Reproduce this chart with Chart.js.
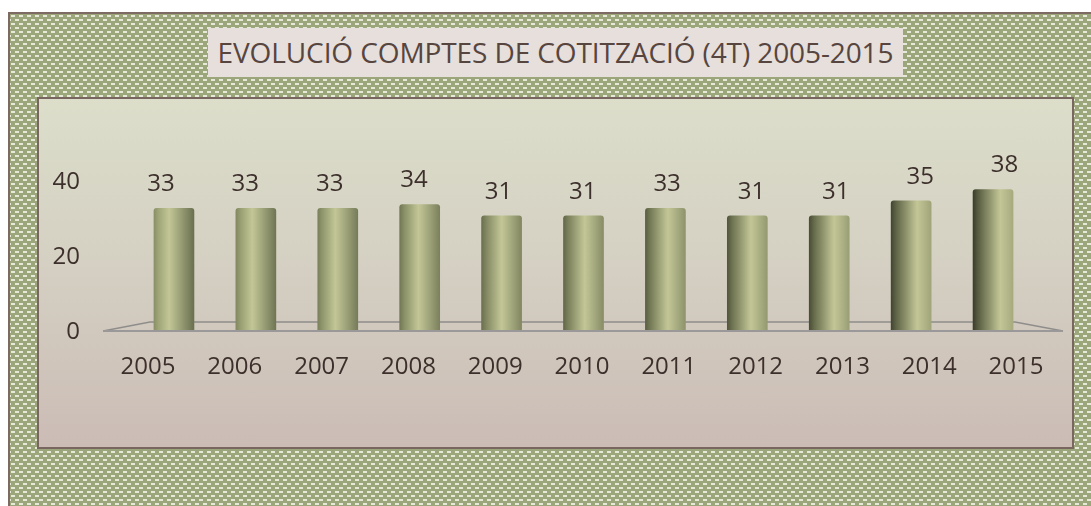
<!DOCTYPE html>
<html>
<head>
<meta charset="utf-8">
<script src="https://cdn.jsdelivr.net/npm/chart.js@4/dist/chart.umd.min.js"></script>
<style>
  html, body { margin: 0; padding: 0; width: 1091px; height: 506px; overflow: hidden; background: #ffffff; }
  #frame {
    position: absolute; left: 8px; top: 12px; width: 1090px; height: 500px;
    border-left: 2px solid #7d6b63; border-top: 2px solid #7d6b63;
    background-color: #9ba67b;
    background-image: url("data:image/svg+xml;utf8,<svg xmlns='http://www.w3.org/2000/svg' width='8' height='8'><rect x='1' y='1' width='4' height='2' fill='%23f4f4ea' fill-opacity='0.85'/><rect x='5' y='5' width='3' height='2' fill='%23f4f4ea' fill-opacity='0.85'/><rect x='0' y='5' width='1' height='2' fill='%23f4f4ea' fill-opacity='0.85'/></svg>");
  }
  #title {
    position: absolute; left: 208px; top: 28px; width: 695px; height: 49px;
    background: #e6dfdc; color: #574540;
    font-family: "Open Sans", sans-serif; font-size: 28px; line-height: 49px;
    text-align: center; white-space: nowrap; letter-spacing: -0.1px;
  }
  #panel {
    position: absolute; left: 37px; top: 97px; width: 1037px; height: 352px;
    box-sizing: border-box; border: 2px solid #7a6660;
    background: linear-gradient(to bottom, #dcdeca 0%, #d4cfc2 50%, #cbbcb5 100%);
  }
  #wrap { position: absolute; left: 39px; top: 99px; width: 1033px; height: 348px; }
</style>
</head>
<body>
<div id="frame"></div>
<div id="title">EVOLUCIÓ COMPTES DE COTITZACIÓ (4T) 2005-2015</div>
<div id="panel"></div>
<div id="wrap"><canvas id="c"></canvas></div>
<script>
const YEARS = ['2005','2006','2007','2008','2009','2010','2011','2012','2013','2014','2015'];
const VALUES = [33, 33, 33, 34, 31, 31, 33, 31, 31, 35, 38];
const Y_TICKS = [0, 20, 40];

const FONT = { family: '"Open Sans", sans-serif', size: 24 };
const TEXT = '#3d302c';

function hex(c){ return [parseInt(c.slice(1,3),16),parseInt(c.slice(3,5),16),parseInt(c.slice(5,7),16)]; }
function mix(a,b,t){ const A=hex(a),B=hex(b); return 'rgb('+A.map((v,i)=>Math.round(v+(B[i]-v)*t)).join(',')+')'; }

function barFill(ctx){
  const chart = ctx.chart;
  const xs = chart.scales && chart.scales.x;
  if (!xs || !chart.chartArea) return '#a4aa7c';
  const cx = xs.getPixelForValue(ctx.dataIndex);
  const w = 40;
  const t = ctx.dataIndex / (YEARS.length - 1);
  const g = chart.ctx.createLinearGradient(cx - w/2, 0, cx + w/2, 0);
  g.addColorStop(0, mix('#8a9066', '#3a3e2c', t));
  g.addColorStop(0.12, mix('#a0a678', '#575c40', t));
  g.addColorStop(0.38 + 0.3*t, '#c3c797');
  g.addColorStop(1, mix('#6a7050', '#a6aa7e', t));
  return g;
}

const floorPlugin = {
  id: 'floor',
  beforeDatasetsDraw(chart){
    const {ctx, chartArea:a, scales:{y}} = chart;
    const y0 = y.getPixelForValue(0);
    ctx.save();
    ctx.strokeStyle = '#8f8d8c';
    ctx.lineWidth = 1.5;
    ctx.beginPath();
    ctx.moveTo(a.left - 30, y0 - 1);
    ctx.lineTo(a.left + 17, y0 - 10);
    ctx.lineTo(a.right - 19, y0 - 10);
    ctx.lineTo(a.right + 29, y0 - 1);
    ctx.stroke();
    ctx.restore();
  },
  afterDatasetsDraw(chart){
    const {ctx, chartArea:a, scales:{y}} = chart;
    const y0 = y.getPixelForValue(0);
    ctx.save();
    ctx.strokeStyle = '#9a9898';
    ctx.lineWidth = 2;
    ctx.beginPath();
    ctx.moveTo(a.left - 30, y0 - 1);
    ctx.lineTo(a.right + 29, y0 - 1);
    ctx.stroke();
    ctx.restore();
  }
};

const labelPlugin = {
  id: 'vlabels',
  afterDatasetsDraw(chart){
    const {ctx, scales:{xl}} = chart;
    const meta = chart.getDatasetMeta(0);
    ctx.save();
    ctx.font = FONT.size + 'px ' + FONT.family;
    ctx.fillStyle = TEXT;
    ctx.textAlign = 'center';
    ctx.textBaseline = 'bottom';
    meta.data.forEach((bar, i) => {
      const x = (bar.x + xl.getPixelForValue(i)) / 2;
      ctx.fillText(String(VALUES[i]), x, bar.y - 12);
    });
    ctx.restore();
  }
};

new Chart(document.getElementById('c'), {
  type: 'bar',
  data: {
    labels: YEARS,
    datasets: [{
      data: VALUES,
      backgroundColor: barFill,
      borderWidth: 0,
      barThickness: 40,
      borderRadius: { topLeft: 3, topRight: 3 },
      borderSkipped: 'bottom'
    }]
  },
  options: {
    responsive: true,
    maintainAspectRatio: false,
    animation: false,
    layout: { padding: { top: 8, right: 38, left: 0, bottom: 0 } },
    plugins: { legend: { display: false }, tooltip: { enabled: false }, title: { display: false } },
    scales: {
      x: { type: 'category', display: false, offset: true },
      xl: {
        type: 'linear', position: 'bottom', offset: false, bounds: 'data',
        min: -0.173, max: 10.207,
        grid: { display: false, drawTicks: false, offset: false },
        border: { display: false },
        afterBuildTicks: (axis) => { axis.ticks = YEARS.map((_, i) => ({ value: i })); },
        afterFit: (axis) => { axis.height = 115; axis.paddingLeft = 0; axis.paddingRight = 0; },
        ticks: {
          autoSkip: false, maxRotation: 0, minRotation: 0, padding: 21,
          font: FONT, color: TEXT,
          callback: (v) => YEARS[v]
        }
      },
      y: {
        min: 0, max: 60,
        grid: { display: false, drawTicks: false },
        border: { display: false },
        afterBuildTicks: (axis) => { axis.ticks = Y_TICKS.map(v => ({ value: v })); },
        afterFit: (axis) => { axis.width = 94; axis.paddingTop = 0; axis.paddingBottom = 0; },
        ticks: { padding: 53, font: FONT, color: TEXT }
      }
    }
  },
  plugins: [floorPlugin, labelPlugin]
});
</script>
</body>
</html>
